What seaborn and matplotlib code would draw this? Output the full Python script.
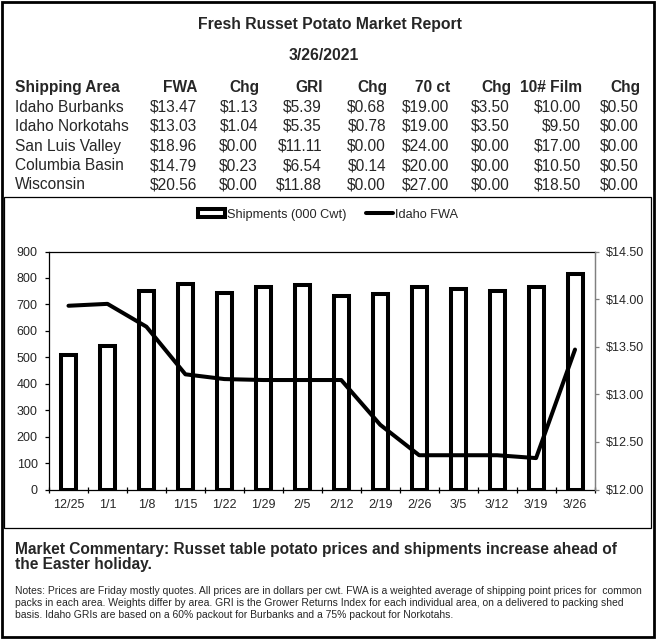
import matplotlib
matplotlib.use('Agg')
import matplotlib.pyplot as plt
import seaborn as sns
import numpy as np
import pandas as pd
from matplotlib.patches import Rectangle, Patch
from matplotlib.lines import Line2D
from matplotlib.ticker import FuncFormatter, MultipleLocator

sns.set_theme(style='white')
plt.rcParams['font.family'] = ['Liberation Sans', 'DejaVu Sans']

# ---------------- data ----------------
title = "Fresh Russet Potato Market Report"
report_date = "3/26/2021"
columns = ["Shipping Area", "FWA", "Chg", "GRI", "Chg", "70 ct", "Chg", "10# Film", "Chg"]
areas = ["Idaho Burbanks", "Idaho Norkotahs", "San Luis Valley", "Columbia Basin", "Wisconsin"]
fwa = [13.47, 13.03, 18.96, 14.79, 20.56]
fwa_chg = [1.13, 1.04, 0.00, 0.23, 0.00]
gri = [5.39, 5.35, 11.11, 6.54, 11.88]
gri_chg = [0.68, 0.78, 0.00, 0.14, 0.00]
ct70 = [19.00, 19.00, 24.00, 20.00, 27.00]
ct70_chg = [3.50, 3.50, 0.00, 0.00, 0.00]
film10 = [10.00, 9.50, 17.00, 10.50, 18.50]
film10_chg = [0.50, 0.00, 0.00, 0.50, 0.00]

weeks = ["12/25", "1/1", "1/8", "1/15", "1/22", "1/29", "2/5",
         "2/12", "2/19", "2/26", "3/5", "3/12", "3/19", "3/26"]
shipments = [507, 543, 749, 777, 742, 767, 773, 730, 738, 765, 757, 752, 765, 815]
idaho_fwa = [13.93, 13.95, 13.71, 13.21, 13.16, 13.15, 13.15, 13.15,
             12.68, 12.36, 12.36, 12.36, 12.33, 13.47]

commentary = ["Market Commentary: Russet table potato prices and shipments increase ahead of",
              "the Easter holiday."]
notes = ["Notes: Prices are Friday mostly quotes. All prices are in dollars per cwt. FWA is a weighted average of shipping point prices for  common",
         "packs in each area. Weights differ by area. GRI is the Grower Returns Index for each individual area, on a delivered to packing shed",
         "basis. Idaho GRIs are based on a 60% packout for Burbanks and a 75% packout for Norkotahs."]

# ---------------- figure ----------------
W, H = 656, 639
fig = plt.figure(figsize=(W / 100, H / 100), dpi=100)
fig.patch.set_facecolor('white')

def fx(px):
    return px / W

def fy(py):
    return 1 - py / H

# frames
fig.patches.append(Rectangle((fx(1.5), fy(637)), fx(652.5), 635.5 / H,
                             transform=fig.transFigure, fill=False, edgecolor='black', lw=2.0))
fig.patches.append(Rectangle((fx(4), fy(528)), fx(647), (528 - 197) / H,
                             transform=fig.transFigure, fill=False, edgecolor='black', lw=0.9))

# title
fig.text(fx(329.5), fy(29.3), title, ha='center', va='baseline', fontsize=11.3, fontweight='bold')
fig.text(fx(324), fy(60), report_date, ha='center', va='baseline', fontsize=11.3, fontweight='bold')

# table
col_right = [198, 259, 323, 387, 450, 511, 582, 640]
header_base = 91.7
row_base = [111.5, 131.0, 150.5, 170.0, 189.5]
fs_tab = 11.2
fig.text(fx(15), fy(header_base), columns[0], ha='left', va='baseline', fontsize=fs_tab, fontweight='bold')
for c, xr in zip(columns[1:], col_right):
    fig.text(fx(xr), fy(header_base), c, ha='right', va='baseline', fontsize=fs_tab, fontweight='bold')
series = [fwa, fwa_chg, gri, gri_chg, ct70, ct70_chg, film10, film10_chg]
for i, a in enumerate(areas):
    fig.text(fx(15), fy(row_base[i]), a, ha='left', va='baseline', fontsize=fs_tab)
    for s, xr in zip(series, col_right):
        fig.text(fx(xr - 1), fy(row_base[i]), f"${s[i]:.2f}", ha='right', va='baseline', fontsize=fs_tab)

# ---------------- chart ----------------
fs_ch = 9.0
ax = fig.add_axes([fx(49), fy(489.5), fx(594.5) - fx(49), (489.5 - 251.5) / H])
df = pd.DataFrame({"week": weeks, "shipments": shipments, "fwa": idaho_fwa})
sns.barplot(data=df, x="week", y="shipments", ax=ax, color='white', edgecolor='black',
            linewidth=2.9, width=0.385, saturation=1)
ax.set_xlim(-0.5, len(weeks) - 0.5)
ax.set_ylim(0, 900)
ax.yaxis.set_major_locator(MultipleLocator(100))
ax.set_xlabel('')
ax.set_ylabel('')
ax.set_facecolor('white')
for sp in ax.spines.values():
    sp.set_visible(True)
    sp.set_color('black')
    sp.set_linewidth(0.9)
ax.spines['right'].set_color('#808080')
ax.tick_params(axis='y', which='major', direction='out', length=3.2, width=0.9, color='black',
               labelsize=fs_ch, pad=5, left=True)
ax.set_xticks(np.arange(len(weeks)))
ax.set_xticklabels(weeks)
ax.tick_params(axis='x', which='major', length=0, labelsize=fs_ch, pad=6.5)
ax.set_xticks(np.arange(len(weeks) + 1) - 0.5, minor=True)
ax.tick_params(axis='x', which='minor', direction='inout', length=4.5, width=0.9, color='black', bottom=True)
ax.grid(False)

ax2 = ax.twinx()
sns.lineplot(data=df, x="week", y="fwa", ax=ax2, color='black', linewidth=2.9, sort=False)
ax2.set_ylim(12.0, 14.5)
ax2.yaxis.set_major_locator(MultipleLocator(0.5))
ax2.yaxis.set_major_formatter(FuncFormatter(lambda v, p: f"${v:.2f}"))
ax2.set_ylabel('')
ax2.set_xlabel('')
ax2.tick_params(axis='y', which='major', direction='out', length=3, width=0.9, color='#808080',
                labelsize=fs_ch, pad=5, right=True)
for sp in ax2.spines.values():
    sp.set_visible(False)
ax2.spines['right'].set_visible(True)
ax2.spines['right'].set_color('#808080')
ax2.spines['right'].set_linewidth(0.9)
ax2.grid(False)
ax2.set_xlim(-0.5, len(weeks) - 0.5)

handles = [Patch(facecolor='white', edgecolor='black', linewidth=2.9),
           Line2D([0], [0], color='black', linewidth=2.9)]
labels = ["Shipments (000 Cwt)", "Idaho FWA"]
fig.legend(handles, labels, loc='center', bbox_to_anchor=(fx(328), fy(214.5)), ncol=2,
           frameon=False, fontsize=9.2, handlelength=2.1, handletextpad=0.2,
           columnspacing=1.5, handleheight=0.55, borderpad=0.2)

# ---------------- commentary ----------------
fig.text(fx(15), fy(554.3), commentary[0], ha='left', va='baseline', fontsize=11.2, fontweight='bold')
fig.text(fx(15), fy(568.8), commentary[1], ha='left', va='baseline', fontsize=11.2, fontweight='bold')
note_base = [594.0, 606.0, 617.7]
for t, b in zip(notes, note_base):
    fig.text(fx(15), fy(b), t, ha='left', va='baseline', fontsize=7.5)

fig.savefig('out.png', dpi=100, facecolor='white')
